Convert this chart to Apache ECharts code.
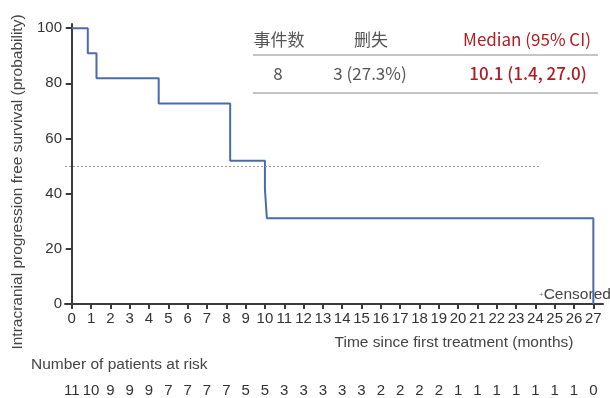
<!DOCTYPE html>
<html>
<head>
<meta charset="utf-8">
<script src="https://cdn.jsdelivr.net/npm/echarts@6/dist/echarts.min.js"></script>
<style>html,body{margin:0;padding:0;background:#fff}#c{width:610px;height:398px}</style>
</head>
<body>
<div id="c"></div>
<script>
// Kaplan-Meier steps: [time (months), survival (%)]
var kmTimes = [0, 0.83, 1.28, 4.5, 8.2, 10.0, 10.1, 27.0];
var kmSurv  = [100, 90.9, 81.8, 72.7, 51.9, 41.5, 31.1, 0];
var xTicks = [0,1,2,3,4,5,6,7,8,9,10,11,12,13,14,15,16,17,18,19,20,21,22,23,24,25,26,27];
var yTicks = [0,20,40,60,80,100];
var atRisk = [11,10,9,9,9,7,7,7,7,5,5,3,3,3,3,3,2,2,2,2,1,1,1,1,1,1,1,0];
var tableHeader = ['事件数', '删失', 'Median (95% CI)'];
var tableRow = ['8', '3 (27.3%)', '10.1 (1.4, 27.0)'];

var kmData = kmTimes.map(function(t, i){ return [t, kmSurv[i]]; });
var sans = "'Liberation Sans',Arial,sans-serif";
var cjk = "'Noto Sans CJK SC','Noto Sans',sans-serif";
var red = '#b01c22';
var chart = echarts.init(document.getElementById('c'));
chart.setOption({
  animation: false,
  grid: {left: 65, right: 7, top: 24, bottom: 92},
  xAxis: [{
    type: 'value', min: -0.35, max: 27.5,
    axisLine: {lineStyle: {color: '#3a3a3a', width: 2}},
    axisTick: {customValues: xTicks, length: 5, lineStyle: {color: '#3a3a3a', width: 2}},
    axisLabel: {customValues: xTicks, color: '#333', fontSize: 15, fontFamily: sans, margin: 7},
    splitLine: {show: false}
  }, {
    type: 'value', min: -0.35, max: 27.5, position: 'bottom', offset: 71,
    axisLine: {show: false}, axisTick: {show: false}, splitLine: {show: false},
    axisLabel: {customValues: xTicks, color: '#333', fontSize: 15, fontFamily: sans,
      formatter: function(v){ var i = Math.round(v); return atRisk[i] !== undefined ? String(atRisk[i]) : ''; }}
  }],
  yAxis: {
    type: 'value', min: 0, max: 101.5,
    axisLine: {show: true, lineStyle: {color: '#3a3a3a', width: 2}},
    axisTick: {show: true, customValues: yTicks, length: 6, lineStyle: {color: '#3a3a3a', width: 2}},
    axisLabel: {customValues: yTicks, color: '#333', fontSize: 15, fontFamily: sans, margin: 3},
    splitLine: {show: false}
  },
  series: [{
    type: 'line', step: 'end', data: kmData, symbol: 'none',
    lineStyle: {color: '#4a6cae', width: 2},
    markLine: {
      silent: true, symbol: 'none', label: {show: false},
      lineStyle: {color: '#9a9a9a', type: [2, 2], width: 1},
      data: [[{coord: [-0.35, 50]}, {coord: [24.2, 50]}]]
    }
  }],
  graphic: [
    {type: 'text', x: 18, y: 182, rotation: Math.PI / 2, style: {text: 'Intracranial progression free survival (probability)', fill: '#444', font: "15.5px " + sans, align: 'center', verticalAlign: 'middle'}},
    {type: 'text', x: 454, y: 343, style: {text: 'Time since first treatment (months)', fill: '#444', font: "15.5px " + sans, align: 'center', verticalAlign: 'middle'}},
    {type: 'text', x: 31, y: 365, style: {text: 'Number of patients at risk', fill: '#444', font: "15.5px " + sans, align: 'left', verticalAlign: 'middle'}},
    {type: 'text', x: 539, y: 295, style: {text: '{a|+}{b|Censored}', fill: '#444', align: 'left', verticalAlign: 'middle',
      rich: {a: {fontSize: 8, fontFamily: sans, fill: '#777'}, b: {fontSize: 15.5, fontFamily: sans, fill: '#444'}}}},
    {type: 'line', shape: {x1: 253, y1: 55, x2: 598, y2: 55}, style: {stroke: '#8a8a8a', lineWidth: 1}},
    {type: 'line', shape: {x1: 253, y1: 93, x2: 598, y2: 93}, style: {stroke: '#8a8a8a', lineWidth: 1}},
    {type: 'text', x: 279, y: 40, style: {text: tableHeader[0], fill: '#555', font: "17px " + cjk, align: 'center', verticalAlign: 'middle'}},
    {type: 'text', x: 371, y: 40, style: {text: tableHeader[1], fill: '#555', font: "17px " + cjk, align: 'center', verticalAlign: 'middle'}},
    {type: 'text', x: 527, y: 40, style: {text: tableHeader[2], fill: red, font: "17px " + cjk, align: 'center', verticalAlign: 'middle'}},
    {type: 'text', x: 278, y: 74, style: {text: tableRow[0], fill: '#555', font: "17px " + cjk, align: 'center', verticalAlign: 'middle'}},
    {type: 'text', x: 370, y: 74, style: {text: tableRow[1], fill: '#555', font: "17px " + cjk, align: 'center', verticalAlign: 'middle'}},
    {type: 'text', x: 528, y: 74, style: {text: tableRow[2], fill: red, font: "500 17px " + cjk, align: 'center', verticalAlign: 'middle'}}
  ]
});
</script>
</body>
</html>
